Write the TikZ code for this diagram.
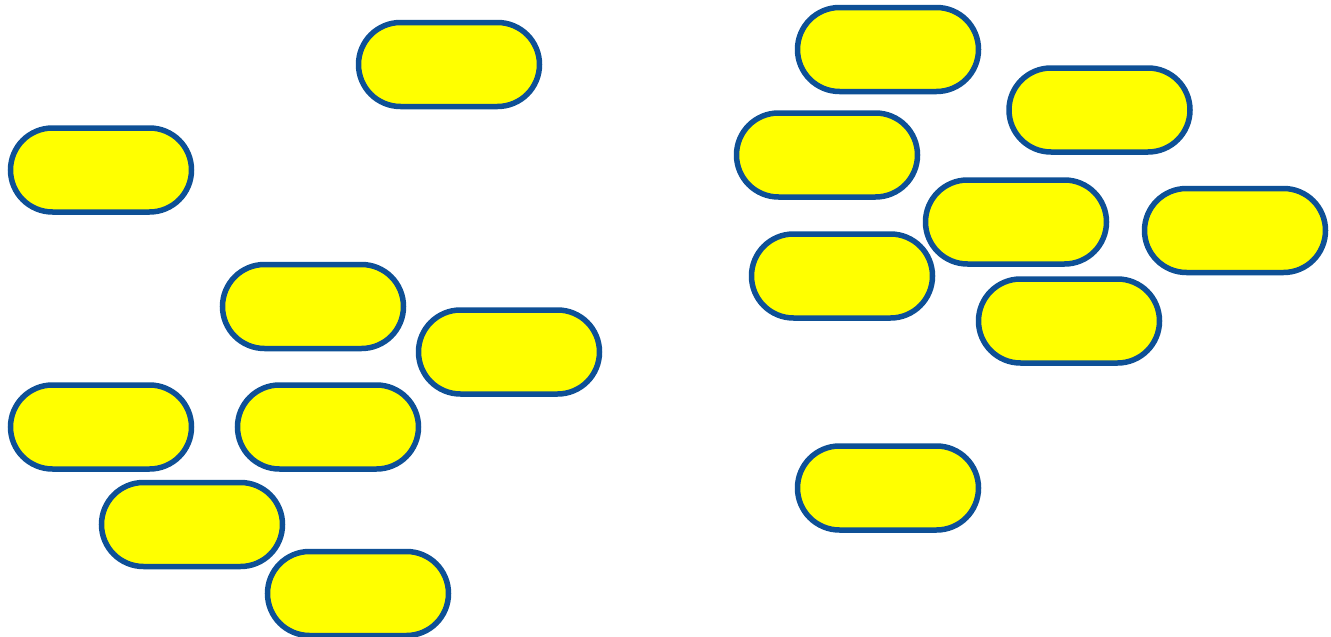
\documentclass[tikz,border=0pt]{standalone}
\usetikzlibrary{shapes.misc}
\definecolor{pillblue}{RGB}{14,80,150}
\definecolor{pillyellow}{RGB}{255,255,0}
\tikzset{
  pill/.style={rounded rectangle, draw=pillblue, fill=pillyellow, line width=5.5pt,
    minimum width=181pt, minimum height=84pt, inner sep=0pt}
}
\begin{document}
\begin{tikzpicture}[x=1pt,y=-1pt]
\fill[white] (0,0) rectangle (1331,637);
\useasboundingbox (0,0) rectangle (1331,637);
\node[pill] (p1) at (449,64.5) {};
\node[pill] (p2) at (101,170) {};
\node[pill] (p3) at (313,306.5) {};
\node[pill] (p4) at (509,352) {};
\node[pill] (p5) at (101,427) {};
\node[pill] (p6) at (328,427) {};
\node[pill] (p7) at (192,524.5) {};
\node[pill] (p8) at (358,593.5) {};
\node[pill] (p9) at (888,49.5) {};
\node[pill] (p10) at (1099.5,110) {};
\node[pill] (p11) at (827,155) {};
\node[pill] (p12) at (1016,222) {};
\node[pill] (p13) at (1235,230.5) {};
\node[pill] (p14) at (842,276) {};
\node[pill] (p15) at (1069,321) {};
\node[pill] (p16) at (888,488) {};
\end{tikzpicture}
\end{document}
